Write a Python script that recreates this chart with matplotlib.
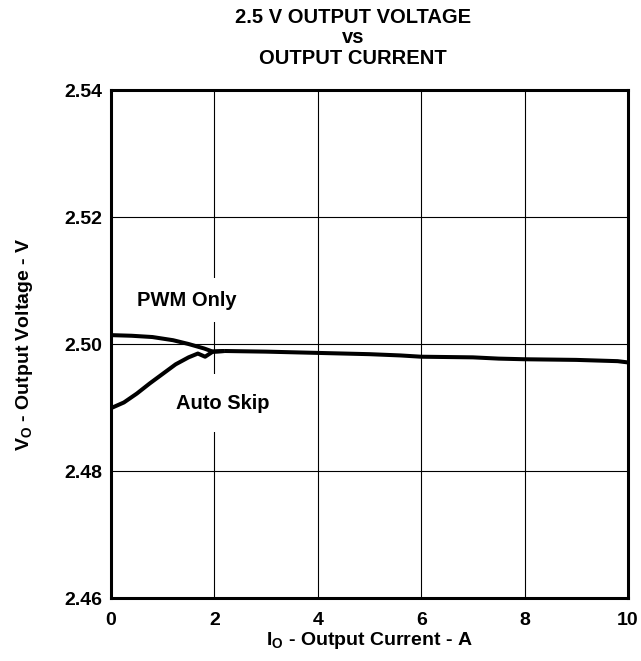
import numpy as np
import matplotlib.pyplot as plt

plt.rcParams['font.family'] = 'Liberation Sans'
plt.rcParams['font.weight'] = 'bold'
plt.rcParams['mathtext.fontset'] = 'custom'
plt.rcParams['mathtext.bf'] = 'Liberation Sans:bold'
plt.rcParams['mathtext.rm'] = 'Liberation Sans:bold'

# Auto Skip branch (light load)
skip_i = [0.0, 0.25, 0.5, 0.75, 1.0, 1.25, 1.5, 1.68, 1.82, 1.97, 2.2]
skip_v = [2.4899, 2.4908, 2.4922, 2.4938, 2.4953, 2.4968, 2.4979, 2.4985,
          2.4980, 2.4988, 2.4989]

# PWM Only branch (light load)
pwm_i = [0.0, 0.4, 0.8, 1.2, 1.5, 1.8, 1.97, 2.2]
pwm_v = [2.5014, 2.5013, 2.5011, 2.5006, 2.5000, 2.4993, 2.4988, 2.4989]

# shared curve above ~2 A
common_i = [2.2, 3.0, 4.0, 5.0, 5.6, 6.0, 7.0, 7.5, 8.0, 9.0, 9.8, 10.0]
common_v = [2.4989, 2.4988, 2.4986, 2.4984, 2.4982, 2.4980, 2.4979, 2.4977,
            2.4976, 2.4975, 2.4973, 2.4971]

xticks = [0, 2, 4, 6, 8, 10]
yticks = [2.46, 2.48, 2.50, 2.52, 2.54]

fig = plt.figure(figsize=(6.41, 6.61), dpi=100)
ax = fig.add_axes([0.1732, 0.0953, 0.8065, 0.7685])

ax.plot(skip_i, skip_v, color='black', lw=2.9, solid_capstyle='butt', zorder=4)
ax.plot(pwm_i, pwm_v, color='black', lw=2.9, solid_capstyle='butt', zorder=4)
ax.plot(common_i, common_v, color='black', lw=2.9, solid_capstyle='butt', zorder=4)

ax.set_xlim(0, 10)
ax.set_ylim(2.46, 2.54)
ax.set_xticks(xticks)
ax.set_yticks(yticks)
ax.set_xticklabels([str(t) for t in xticks])
ax.set_yticklabels(['%.2f' % t for t in yticks])
ax.tick_params(length=0, labelsize=14)
ax.tick_params(axis='x', pad=10)
ax.tick_params(axis='y', pad=6)
ax.grid(True, color='black', lw=0.8)
for s in ax.spines.values():
    s.set_linewidth(2.2)

# labels sit on white boxes that cut the grid lines, as in the original
ax.text(1.46, 2.5069, 'PWM Only', ha='center', va='center', fontsize=14.5,
        fontweight='bold', zorder=3,
        bbox=dict(facecolor='white', edgecolor='none', pad=9))
ax.text(2.17, 2.4907, 'Auto Skip', ha='center', va='center', fontsize=14.5,
        fontweight='bold', zorder=3,
        bbox=dict(facecolor='white', edgecolor='none', pad=14))

ax.set_xlabel(r'$\mathbf{I_O}$ - Output Current - A', fontsize=14,
              fontweight='bold')
ax.xaxis.set_label_coords(0.5, -0.062)
ax.set_ylabel(r'$\mathbf{V_O}$ - Output Voltage - V', fontsize=14,
              fontweight='bold')
ax.yaxis.set_label_coords(-0.147, 0.5)

fig.text(0.551, 0.988, '2.5 V OUTPUT VOLTAGE\nvs\nOUTPUT CURRENT',
         ha='center', va='top', fontsize=14.5, fontweight='bold',
         linespacing=1.1)

fig.savefig('out.png', dpi=100)
